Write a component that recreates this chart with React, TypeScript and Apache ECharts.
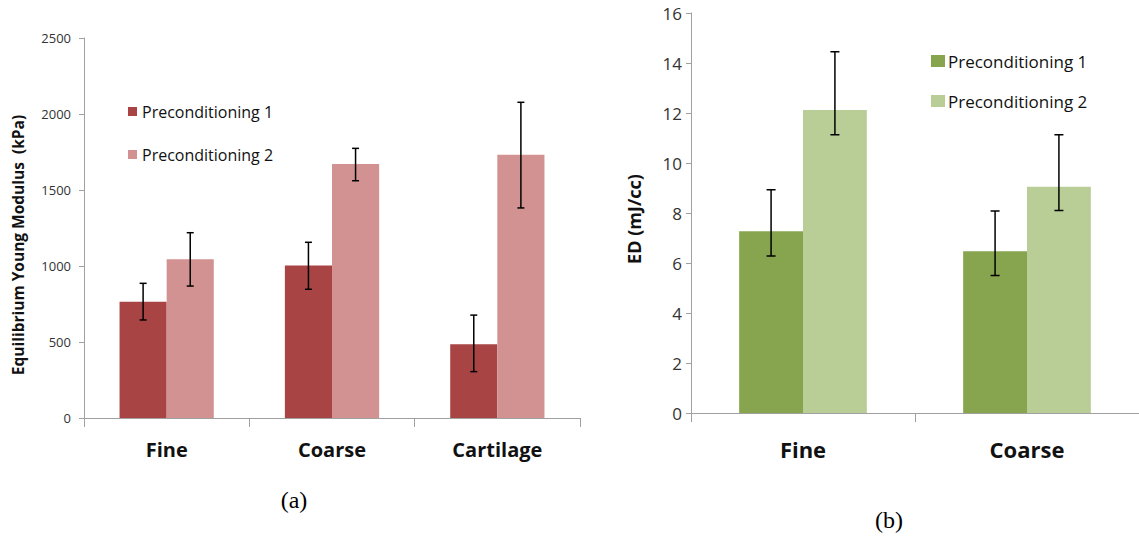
import React, { useEffect, useRef } from "react";
import * as echarts from "echarts";

const categoriesA = ["Fine", "Coarse", "Cartilage"];
const seriesNames = ["Preconditioning 1", "Preconditioning 2"];
const p1A = [765, 1004, 485];
const p2A = [1044, 1671, 1732];
const p1ALow = [645, 847, 305];
const p1AHigh = [886, 1156, 677];
const p2ALow = [868, 1561, 1382];
const p2AHigh = [1219, 1774, 2077];
const yTicksA = [0, 500, 1000, 1500, 2000, 2500];

const categoriesB = ["Fine", "Coarse"];
const p1B = [7.27, 6.47];
const p2B = [12.12, 9.05];
const p1BLow = [6.28, 5.5];
const p1BHigh = [8.93, 8.08];
const p2BLow = [11.13, 8.1];
const p2BHigh = [14.45, 11.13];
const yTicksB = [0, 2, 4, 6, 8, 10, 12, 14, 16];

const redDark = "#A84544";
const redLight = "#D29292";
const greenDark = "#87A54F";
const greenLight = "#B9CE96";
const FONT = "'Open Sans', Lato, sans-serif";
const GAP = 0.43;

function errData(low: number[], high: number[], s: number) {
  return low.map((l, i) => [i, l, high[i], s]);
}

function errRender(cap: number) {
  return (params: any, api: any) => {
    const i = api.value(0);
    const s = api.value(3);
    const catW = api.size([1, 0])[0];
    const bw = (catW * (1 - GAP)) / 2;
    const off = s === 0 ? -bw / 2 : bw / 2;
    const lo = api.coord([i, api.value(1)]);
    const hi = api.coord([i, api.value(2)]);
    const x = lo[0] + off;
    const st = { stroke: "#000", lineWidth: 1.5 };
    return {
      type: "group",
      children: [
        { type: "line", shape: { x1: x, y1: lo[1], x2: x, y2: hi[1] }, style: st },
        { type: "line", shape: { x1: x - cap, y1: lo[1], x2: x + cap, y2: lo[1] }, style: st },
        { type: "line", shape: { x1: x - cap, y1: hi[1], x2: x + cap, y2: hi[1] }, style: st },
      ],
    };
  };
}

export default function App() {
  const ref = useRef<HTMLDivElement>(null);
  useEffect(() => {
    const chart = echarts.init(ref.current!, null, { renderer: "svg" });
    const axisLine = { lineStyle: { color: "#A0A0A0", width: 1 } };
    const option: any = {
      animation: false,
      backgroundColor: "#fff",
      grid: [
        { left: 84, top: 38, width: 496, height: 380 },
        { left: 691, top: 13, width: 448, height: 400 },
      ],
      xAxis: [
        {
          type: "category",
          gridIndex: 0,
          data: categoriesA,
          axisLine,
          axisTick: { show: true, length: 9, lineStyle: { color: "#A0A0A0" } },
          axisLabel: { color: "#111", fontFamily: FONT, fontWeight: "bold", fontSize: 20, margin: 21 },
        },
        {
          type: "category",
          gridIndex: 1,
          data: categoriesB,
          axisLine,
          axisTick: { show: true, length: 9, lineStyle: { color: "#A0A0A0" } },
          axisLabel: { color: "#111", fontFamily: FONT, fontWeight: "bold", fontSize: 22, margin: 25 },
        },
      ],
      yAxis: [
        {
          type: "value",
          gridIndex: 0,
          min: yTicksA[0],
          max: yTicksA[yTicksA.length - 1],
          interval: 500,
          axisLine: { show: true, ...axisLine },
          axisTick: { show: true, length: 5, lineStyle: { color: "#A0A0A0" } },
          splitLine: { show: false },
          axisLabel: { color: "#333", fontFamily: FONT, fontSize: 13, margin: 13, formatter: (v: number) => String(v) },
        },
        {
          type: "value",
          gridIndex: 1,
          min: yTicksB[0],
          max: yTicksB[yTicksB.length - 1],
          interval: 2,
          axisLine: { show: true, ...axisLine },
          axisTick: { show: true, length: 5, lineStyle: { color: "#A0A0A0" } },
          splitLine: { show: false },
          axisLabel: { color: "#333", fontFamily: FONT, fontSize: 17, margin: 9, formatter: (v: number) => String(v) },
        },
      ],
      series: [
        { type: "bar", name: seriesNames[0], xAxisIndex: 0, yAxisIndex: 0, data: p1A, itemStyle: { color: redDark }, barGap: "0%", barCategoryGap: "43%" },
        { type: "bar", name: seriesNames[1], xAxisIndex: 0, yAxisIndex: 0, data: p2A, itemStyle: { color: redLight }, barGap: "0%", barCategoryGap: "43%" },
        { type: "bar", name: seriesNames[0] + " ", xAxisIndex: 1, yAxisIndex: 1, data: p1B, itemStyle: { color: greenDark }, barGap: "0%", barCategoryGap: "43%" },
        { type: "bar", name: seriesNames[1] + " ", xAxisIndex: 1, yAxisIndex: 1, data: p2B, itemStyle: { color: greenLight }, barGap: "0%", barCategoryGap: "43%" },
        { type: "custom", xAxisIndex: 0, yAxisIndex: 0, data: errData(p1ALow, p1AHigh, 0), renderItem: errRender(3.5), z: 10 },
        { type: "custom", xAxisIndex: 0, yAxisIndex: 0, data: errData(p2ALow, p2AHigh, 1), renderItem: errRender(3.5), z: 10 },
        { type: "custom", xAxisIndex: 1, yAxisIndex: 1, data: errData(p1BLow, p1BHigh, 0), renderItem: errRender(4.5), z: 10 },
        { type: "custom", xAxisIndex: 1, yAxisIndex: 1, data: errData(p2BLow, p2BHigh, 1), renderItem: errRender(4.5), z: 10 },
      ],
      graphic: [
        { type: "text", x: 18, y: 245, rotation: Math.PI / 2, style: { text: "Equilibrium Young Modulus  (kPa)", fontFamily: FONT, fontWeight: "bold", fontSize: 15.5, fill: "#111", align: "center", verticalAlign: "middle" } },
        { type: "text", x: 634, y: 219, rotation: Math.PI / 2, style: { text: "ED (mJ/cc)", fontFamily: FONT, fontWeight: "bold", fontSize: 18, fill: "#111", align: "center", verticalAlign: "middle" } },
        { type: "rect", shape: { x: 128, y: 107, width: 9, height: 9 }, style: { fill: redDark } },
        { type: "text", x: 142, y: 112, style: { text: seriesNames[0], fontFamily: FONT, fontSize: 16, fill: "#111", verticalAlign: "middle" } },
        { type: "rect", shape: { x: 128, y: 150, width: 9, height: 9 }, style: { fill: redLight } },
        { type: "text", x: 142, y: 155, style: { text: seriesNames[1], fontFamily: FONT, fontSize: 16, fill: "#111", verticalAlign: "middle" } },
        { type: "rect", shape: { x: 931, y: 55, width: 14, height: 12 }, style: { fill: greenDark } },
        { type: "text", x: 948, y: 61, style: { text: seriesNames[0], fontFamily: FONT, fontSize: 17, fill: "#111", verticalAlign: "middle" } },
        { type: "rect", shape: { x: 931, y: 95, width: 14, height: 12 }, style: { fill: greenLight } },
        { type: "text", x: 948, y: 101, style: { text: seriesNames[1], fontFamily: FONT, fontSize: 17, fill: "#111", verticalAlign: "middle" } },
        { type: "text", x: 294, y: 500, style: { text: "(a)", fontFamily: "'Liberation Serif', 'DejaVu Serif', serif", fontSize: 24, fill: "#000", align: "center", verticalAlign: "middle" } },
        { type: "text", x: 889, y: 520, style: { text: "(b)", fontFamily: "'Liberation Serif', 'DejaVu Serif', serif", fontSize: 24, fill: "#000", align: "center", verticalAlign: "middle" } },
      ],
    };
    chart.setOption(option);
    return () => chart.dispose();
  }, []);
  return <div ref={ref} style={{ position: "fixed", left: 0, top: 0, width: 1139, height: 539 }} />;
}
